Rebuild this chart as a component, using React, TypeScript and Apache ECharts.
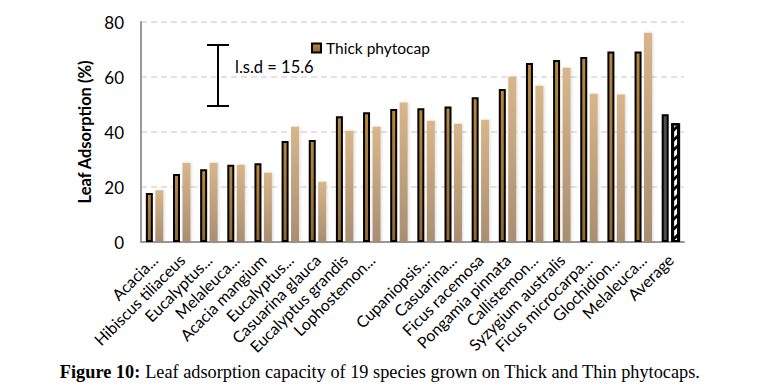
import React, { useEffect, useRef } from "react";
import * as echarts from "echarts";

const categories = [
  "Acacia...",
  "Hibiscus tiliaceus",
  "Eucalyptus...",
  "Melaleuca...",
  "Acacia mangium",
  "Eucalyptus...",
  "Casuarina glauca",
  "Eucalyptus grandis",
  "Lophostemon...",
  "",
  "Cupaniopsis...",
  "Casuarina...",
  "Ficus racemosa",
  "Pongamia pinnata",
  "Callistemon...",
  "Syzygium australis",
  "Ficus microcarpa...",
  "Glochidion...",
  "Melaleuca...",
  "Average",
];

const thickValues = [17.8, 24.7, 26.5, 28.1, 28.6, 36.7, 37.1, 45.7, 47.2, 48.4, 48.6, 49.3, 52.6, 55.6, 65.1, 66.2, 67.3, 69.3, 69.3, 46.5];
const thinValues = [18.8, 28.8, 28.8, 28.1, 25.2, 41.9, 21.9, 40.5, 41.9, 50.7, 44.1, 43.0, 44.5, 60.1, 56.8, 63.4, 53.9, 53.6, 76.1, 43.2];

const yTicks = { min: 0, max: 80, interval: 20 };
const lsdText = "l.s.d = 15.6";

const FONT = "Lato, 'Open Sans', sans-serif";

export default function App() {
  const ref = useRef<HTMLDivElement>(null);

  useEffect(() => {
    if (!ref.current) return;
    const chart = echarts.init(ref.current, undefined, { renderer: "svg" });

    const thickGrad = new echarts.graphic.LinearGradient(0, 0, 0, 1, [
      { offset: 0, color: "#b8873f" },
      { offset: 1, color: "#8c6834" },
    ]);
    const thinGrad = new echarts.graphic.LinearGradient(0, 0, 0, 1, [
      { offset: 0, color: "#d8b68a" },
      { offset: 1, color: "#a88e72" },
    ]);

    const last = categories.length - 1;
    const thickData = thickValues.map((v, i) =>
      i === last
        ? { value: v, itemStyle: { color: "#4f4f4f", borderColor: "#000", borderWidth: 2 } }
        : v
    );
    const thinData = thinValues.map((v, i) =>
      i === last
        ? {
            value: v,
            itemStyle: {
              color: "#ffffff",
              borderColor: "#000",
              borderWidth: 2,
              shadowBlur: 0,
              decal: {
                color: "#000",
                backgroundColor: "#fff",
                dashArrayX: [[1, 0]],
                dashArrayY: [2, 5],
                rotation: -Math.PI / 4,
                symbolSize: 1,
              },
            },
          }
        : v
    );

    chart.setOption({
      animation: false,
      textStyle: { fontFamily: FONT },
      aria: { enabled: false },
      grid: { left: 141, right: 86, top: 22, bottom: 149 },
      legend: {
        data: ["Thick phytocap"],
        left: 306,
        top: 35,
        icon: "rect",
        itemWidth: 9,
        itemHeight: 9,
        itemGap: 6,
        textStyle: { fontSize: 15.5, color: "#000", fontFamily: FONT },
      },
      xAxis: {
        type: "category",
        data: categories,
        axisLine: { lineStyle: { color: "#999", width: 2 } },
        axisTick: { show: false },
        axisLabel: {
          interval: 0,
          rotate: 45,
          fontSize: 16,
          color: "#000",
          fontFamily: FONT,
          margin: 15,
        },
      },
      yAxis: {
        type: "value",
        min: yTicks.min,
        max: yTicks.max,
        interval: yTicks.interval,
        name: "Leaf Adsorption (%)",
        nameLocation: "middle",
        nameGap: 46,
        nameTextStyle: { fontSize: 16.5, fontWeight: "bold", color: "#000", fontFamily: FONT },
        axisLine: { show: true, lineStyle: { color: "#999", width: 2 } },
        axisTick: { show: false },
        axisLabel: { fontSize: 17, color: "#000", margin: 17, fontFamily: FONT },
        splitLine: { lineStyle: { color: "#d9d9d9", type: [6, 4], width: 1.5 } },
      },
      series: [
        {
          name: "Thick phytocap",
          type: "bar",
          data: thickData,
          barWidth: 7,
          barGap: "35%",
          itemStyle: { color: thickGrad, borderColor: "#000", borderWidth: 2 },
        },
        {
          name: "Thin phytocap",
          type: "bar",
          data: thinData,
          barWidth: 8,
          itemStyle: {
            color: thinGrad,
            shadowColor: "rgba(0,0,0,0.15)",
            shadowBlur: 3,
            shadowOffsetX: 1,
          },
        },
      ],
      graphic: [
        {
          type: "group",
          children: [
            { type: "line", shape: { x1: 218, y1: 45, x2: 218, y2: 106 }, style: { stroke: "#000", lineWidth: 2 } },
            { type: "line", shape: { x1: 207, y1: 45, x2: 229, y2: 45 }, style: { stroke: "#000", lineWidth: 2 } },
            { type: "line", shape: { x1: 207, y1: 106, x2: 229, y2: 106 }, style: { stroke: "#000", lineWidth: 2 } },
            {
              type: "text",
              x: 235,
              y: 67,
              style: { text: lsdText, fontSize: 16.5, fill: "#000", fontFamily: FONT, verticalAlign: "middle" },
            },
          ],
        },
        {
          type: "text",
          x: 380,
          y: 372,
          style: {
            text: "{b|Figure 10:} Leaf adsorption capacity of 19 species grown on Thick and Thin phytocaps.",
            align: "center",
            verticalAlign: "middle",
            fontSize: 18.3,
            fontFamily: "'Liberation Serif', 'Times New Roman', serif",
            fill: "#000",
            rich: {
              b: {
                fontWeight: "bold",
                fontSize: 18.3,
                fontFamily: "'Liberation Serif', 'Times New Roman', serif",
                fill: "#000",
              },
            },
          },
        },
      ],
    });

    return () => chart.dispose();
  }, []);

  return (
    <div
      ref={ref}
      style={{ position: "fixed", left: 0, top: 0, width: 770, height: 391, background: "#fff" }}
    />
  );
}
